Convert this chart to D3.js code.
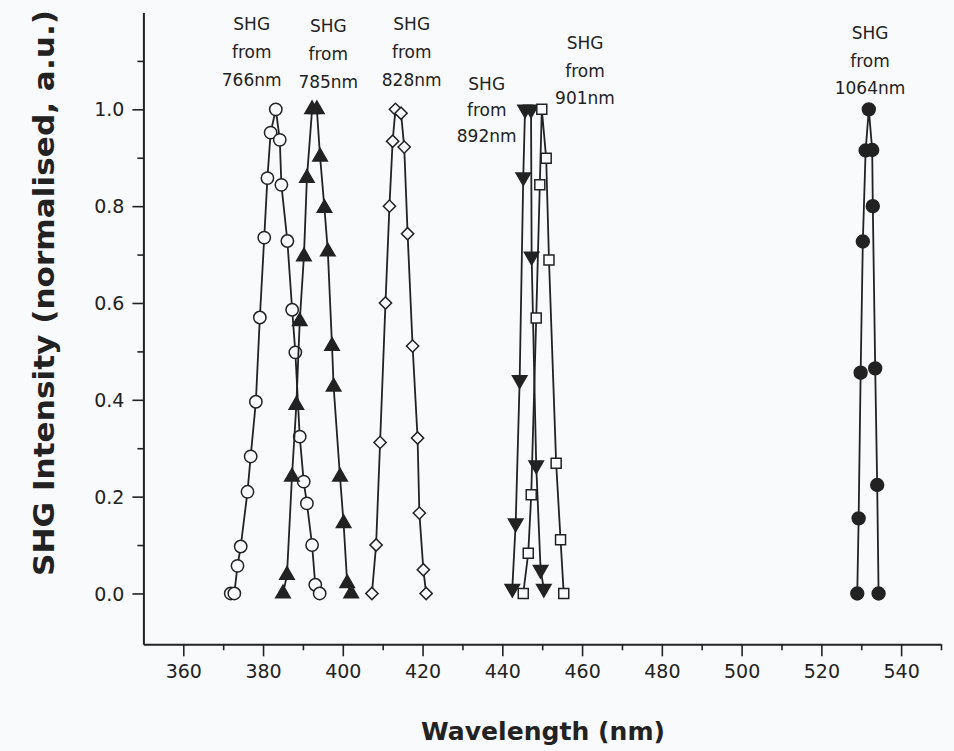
<!DOCTYPE html>
<html>
<head>
<meta charset="utf-8">
<script src="https://cdn.jsdelivr.net/npm/d3@7"></script>
<style>
  body { margin: 0; background: #f9fafc; }
  svg { display: block; }
  text { font-family: "DejaVu Sans", Verdana, sans-serif; fill: #222; }
</style>
</head>
<body>
<svg width="954" height="751"></svg>
<script>
// SHG spectra, [wavelength nm, normalised intensity], in drawing order
const shg766 = [[371.9,0],[372.8,0.0],[373.6,0.057],[374.4,0.097],[376.1,0.21],[376.9,0.283],[378.2,0.396],[379.2,0.57],[380.3,0.735],[381.1,0.858],[381.9,0.952],[383.2,1.0],[384.2,0.937],[384.6,0.844],[386.1,0.728],[387.3,0.586],[388.1,0.498],[389.2,0.324],[390.2,0.231],[391.0,0.186],[392.3,0.1],[393.1,0.018],[394.2,0]]
const shg785 = [[385.0,0],[386.0,0.038],[387.25,0.241],[388.35,0.389],[389.2,0.562],[390.25,0.696],[391.0,0.858],[392.3,1.0],[393.5,1.0],[394.3,0.902],[395.4,0.796],[396.25,0.706],[397.3,0.511],[397.7,0.427],[399.3,0.241],[400.2,0.145],[401.1,0.021],[402.1,0]]
const shg828 = [[407.3,0],[408.35,0.1],[409.35,0.312],[410.7,0.6],[411.7,0.8],[412.5,0.934],[413.2,1.0],[414.6,0.992],[415.4,0.922],[416.25,0.743],[417.5,0.511],[418.75,0.321],[419.2,0.166],[420.2,0.049],[420.9,0]]
const shg892 = [[442.5,0.01],[443.35,0.145],[444.35,0.441],[445.25,0.86],[445.7,1.0],[447.2,1.0],[447.35,0.696],[448.5,0.265],[449.6,0.049],[450.4,0.01]]
const shg901 = [[445.25,0],[446.5,0.083],[447.25,0.204],[448.5,0.569],[449.4,0.844],[449.9,1.0],[451.0,0.899],[451.7,0.689],[453.5,0.269],[454.6,0.111],[455.4,0]]
const shg1064 = [[529.0,0],[529.35,0.155],[529.85,0.456],[530.4,0.727],[531.1,0.915],[531.9,1.0],[532.75,0.916],[532.9,0.8],[533.5,0.465],[534.0,0.224],[534.35,0]]

const xTicks = [360, 380, 400, 420, 440, 460, 480, 500, 520, 540]
const yTicks = [0.0, 0.2, 0.4, 0.6, 0.8, 1.0]
const labelLines = [
  ['SHG', 'from', '766nm'],
  ['SHG', 'from', '785nm'],
  ['SHG', 'from', '828nm'],
  ['SHG', 'from', '892nm'],
  ['SHG', 'from', '901nm'],
  ['SHG', 'from', '1064nm']
]

const svg = d3.select('svg')
const ink = '#222'
const paper = '#f9fafc'

const x = d3.scaleLinear().domain([350, 550]).range([143.4, 941])
const y = d3.scaleLinear().domain([-0.105, 1.2]).range([644.3, 12.5])

// axes: major ticks labelled, minor ticks in between
const xAxis = svg.append('g').attr('transform', `translate(0,${y(-0.105)})`)
xAxis.call(d3.axisBottom(x).tickValues(xTicks).tickSize(12).tickSizeOuter(0).tickPadding(4).tickFormat(d3.format('d')))
const xMinor = svg.append('g').attr('transform', `translate(0,${y(-0.105)})`)
xMinor.call(d3.axisBottom(x).tickValues(d3.range(370, 551, 20)).tickSize(6).tickFormat(''))
xMinor.select('.domain').remove()

const yAxis = svg.append('g').attr('transform', `translate(${x(350)},0)`)
yAxis.call(d3.axisLeft(y).tickValues(yTicks).tickSize(11).tickSizeOuter(0).tickPadding(8).tickFormat(d3.format('.1f')))
const yMinor = svg.append('g').attr('transform', `translate(${x(350)},0)`)
yMinor.call(d3.axisLeft(y).tickValues([0.1, 0.3, 0.5, 0.7, 0.9, 1.1]).tickSize(6).tickFormat(''))
yMinor.select('.domain').remove()

svg.selectAll('.domain').attr('stroke', ink).attr('stroke-width', 2)
svg.selectAll('.tick line').attr('stroke', ink).attr('stroke-width', 1.6)
svg.selectAll('.tick text').attr('font-size', 19).attr('fill', '#2a2a2a').attr('font-family', '"DejaVu Sans", sans-serif')
xAxis.selectAll('.tick text').attr('dy', '0.95em')
yAxis.selectAll('.tick text').attr('dy', '0.35em')

// series
const series = [
  { data: shg766, type: d3.symbolCircle, size: 120, filled: false, rot: 0 },
  { data: shg785, type: d3.symbolTriangle, size: 90, filled: true, rot: 0 },
  { data: shg828, type: d3.symbolSquare, size: 75, filled: false, rot: 45 },
  { data: shg892, type: d3.symbolTriangle, size: 90, filled: true, rot: 180 },
  { data: shg901, type: d3.symbolSquare, size: 100, filled: false, rot: 0 },
  { data: shg1064, type: d3.symbolCircle, size: 130, filled: true, rot: 0 }
]

const line = d3.line().x(d => x(d[0])).y(d => y(d[1]))

series.forEach(s => {
  svg.append('path')
    .attr('d', line(s.data))
    .attr('fill', 'none')
    .attr('stroke', ink)
    .attr('stroke-width', 1.8)
  svg.append('g').selectAll('path').data(s.data)
    .enter().append('path')
    .attr('d', d3.symbol().type(s.type).size(s.size))
    .attr('transform', d => `translate(${x(d[0])},${y(d[1])}) rotate(${s.rot})`)
    .attr('fill', s.filled ? ink : paper)
    .attr('stroke', ink)
    .attr('stroke-width', 1.5)
})

// annotations
const labelPos = [[251.7, 30], [328.3, 32], [411.7, 30], [486.7, 90], [585, 49], [870, 39]]
const labelGap = [28, 28, 28, 26, 27.5, 27.5]
labelLines.forEach((lines, i) => {
  const t = svg.append('text')
    .attr('text-anchor', 'middle')
    .attr('font-size', 17)
  lines.forEach((s, j) => {
    t.append('tspan')
      .attr('x', labelPos[i][0])
      .attr('y', labelPos[i][1] + j * labelGap[i])
      .text(s)
  })
})

svg.append('text')
  .attr('x', 543).attr('y', 740)
  .attr('text-anchor', 'middle')
  .attr('font-size', 25).attr('font-weight', 'bold')
  .attr('textLength', 244).attr('lengthAdjust', 'spacingAndGlyphs')
  .text('Wavelength (nm)')

svg.append('text')
  .attr('transform', 'translate(54,293) rotate(-90)')
  .attr('text-anchor', 'middle')
  .attr('font-size', 28).attr('font-weight', 'bold')
  .attr('textLength', 566).attr('lengthAdjust', 'spacingAndGlyphs')
  .text('SHG Intensity (normalised, a.u.)')
</script>
</body>
</html>
